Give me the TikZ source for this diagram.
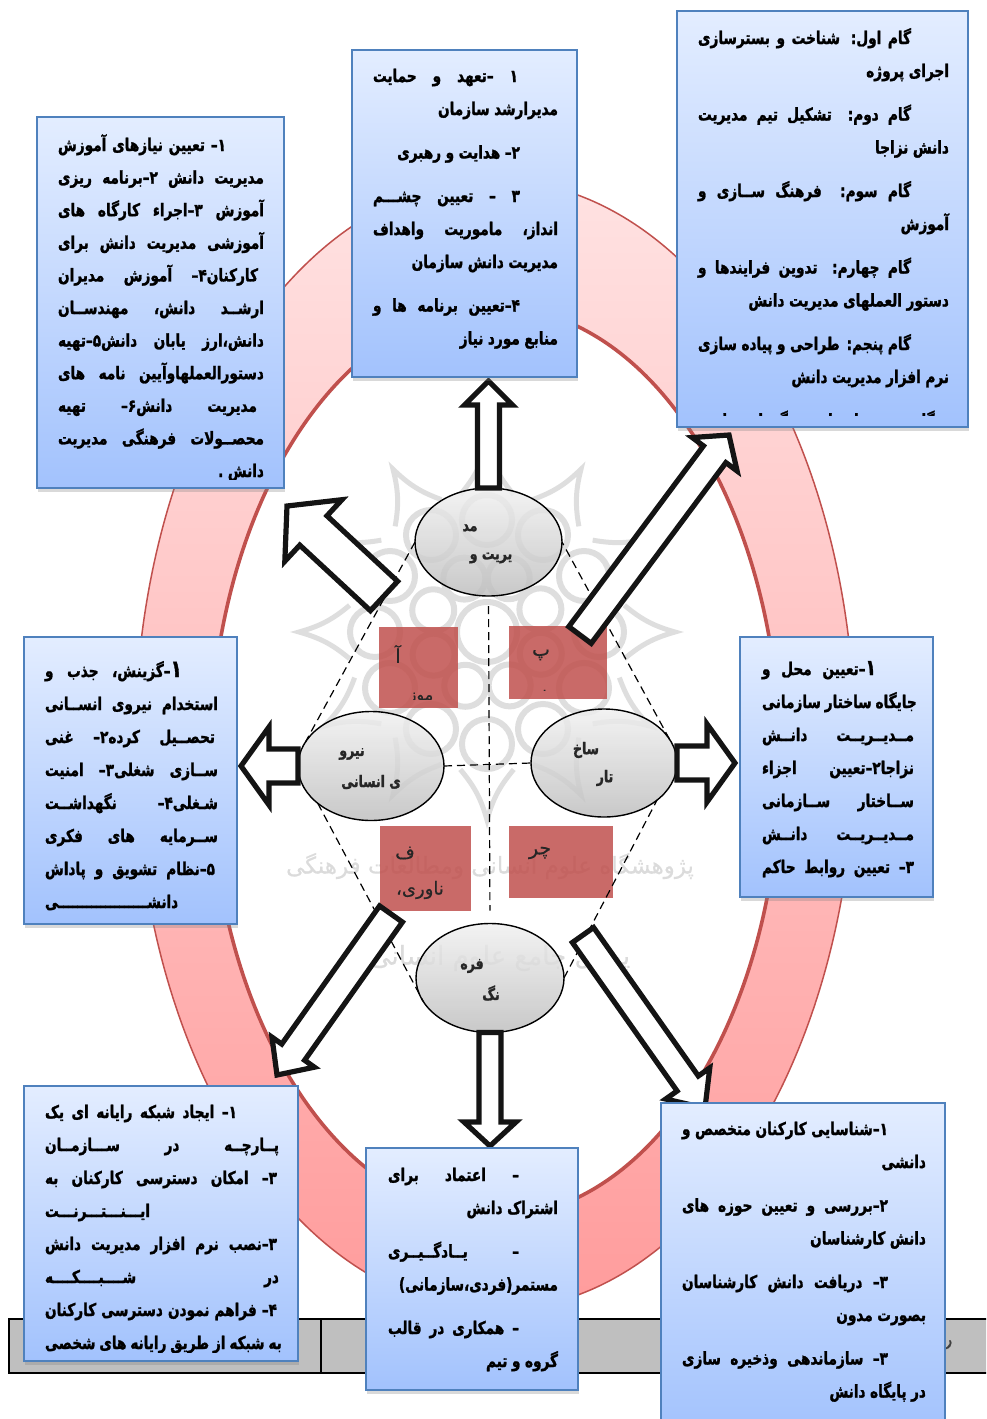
\documentclass[tikz,border=0pt]{standalone}
\usepackage{fontspec}
\usetikzlibrary{calc,shapes.geometric,shadows}
\TeXXeTstate=1
\newfontfamily\fa[Script=Arabic,FakeStretch=0.78,FakeBold=1.5]{DejaVu Sans Bold}
\newfontfamily\fareg[Script=Arabic,FakeBold=0.5]{DejaVu Sans}
\newcommand{\rt}[1]{\beginR #1\endR}
\newcommand{\jl}[2][0pt]{\hbox to\hsize{\spaceskip=.22em plus 1fil\relax\beginR\hskip#1\relax #2\endR}}
\newcommand{\rl}[2][0pt]{\hbox to\hsize{\hfil\spaceskip=.26em\relax\beginR\hskip#1\relax #2\endR}}
\newcommand{\boxtext}[2]{\vtop{\hsize=#1\baselineskip=33pt\lineskiplimit=-100pt\relax #2}}
\newcommand{\gap}{\vskip 10.5pt}
\newcommand{\blockar}[5]{%
  \coordinate (hb) at ($(#2)!#5!(#1)$);
  \draw[blockarrow] ($(#1)!#3!90:(#2)$) -- ($(hb)!#3!90:(#2)$) -- ($(hb)!#4!90:(#2)$) -- (#2)
    -- ($(hb)!#4!-90:(#2)$) -- ($(hb)!#3!-90:(#2)$) -- ($(#1)!#3!-90:(#2)$) -- cycle;}
\definecolor{ringline}{HTML}{C0504D}
\definecolor{boxline}{HTML}{4F81BD}
\definecolor{wmgray}{HTML}{DEDEDE}
\definecolor{boxtop}{HTML}{E3EDFF}
\definecolor{boxbot}{HTML}{A2C2FD}
\definecolor{ringtop}{HTML}{FFE2E2}
\definecolor{ringbot}{HTML}{FF9C9C}
\tikzset{
  kbox/.style={draw=boxline,line width=1.6pt,top color=boxtop,bottom color=boxbot,anchor=north west,inner sep=0pt,outer sep=0pt,
    drop shadow={opacity=.3,shadow xshift=1pt,shadow yshift=-3.5pt}},
  ktext/.style={inner sep=0pt,outer sep=0pt,anchor=base west,font=\fontsize{17.5}{19}\selectfont\fa,text=black},
  kell/.style={ellipse,draw=black,line width=1.4pt,top color=black!6,bottom color=black!26,fill opacity=.82,inner sep=0pt,outer sep=0pt},
  elltext/.style={inner sep=0pt,outer sep=0pt,font=\fontsize{16}{18}\selectfont\fa,text=black!85},
  redbox/.style={fill=ringline,fill opacity=.85,draw=none},
  redtext/.style={inner sep=0pt,outer sep=0pt,font=\fontsize{19}{21}\selectfont\fareg,text=black!85},
  redsmall/.style={redtext,font=\fontsize{16}{18}\selectfont\fareg},
  blockarrow/.style={draw=black!92,line width=5.2pt,fill=white,miter limit=10},
  dashlink/.style={draw=black,line width=1.2pt,dash pattern=on 8pt off 5pt},
  wm/.style={draw=wmgray,line width=6pt,fill=none},
  wmtext/.style={inner sep=0pt,text=black!14},
}
\begin{document}
\begin{tikzpicture}[x=1pt,y=-1pt]
\useasboundingbox (0,0) rectangle (986,1419);
\clip (0,0) rectangle (986,1419);

% table strip
\draw[fill=black!25,draw=black,line width=2pt] (8.5,1319) rectangle (1000,1373);
\draw[black,line width=1.5pt] (321,1319) -- (321,1373);
\node[inner sep=0pt,font=\fontsize{18}{20}\selectfont\fareg,text=black!75] (rr) at (948,1345) {\rt{ر}};

% ring
\path[even odd rule,top color=ringtop,bottom color=ringbot] (495,745) ellipse [x radius=360,y radius=565] (495,762) ellipse [x radius=285,y radius=455];
\draw[ringline,line width=1.5pt] (495,745) ellipse [x radius=360,y radius=565];
\draw[ringline,line width=3.6pt] (495,762) ellipse [x radius=285,y radius=455];

% watermark
\begin{scope}[shift={(487,632)}]
  \foreach \a in {0,45,...,315}{\draw[wm] (\a+22:58) circle (21);}
  \foreach \a in {0,30,...,330}{\draw[wm] (\a:112) circle (25);
     \draw[wm,line width=5pt] (\a-11:140) to[bend right=12] (\a:188) to[bend right=12] (\a+11:140);}
  \draw[wm] (0,0) circle (30);
\end{scope}
\node[wmtext,font=\fontsize{23}{25}\selectfont\fareg] (wm1) at (490,866) {\rt{پژوهشگاه علوم انسانی ومطالعات فرهنگی}};
\node[wmtext,font=\fontsize{26}{28}\selectfont\fareg] (wm2) at (500,958) {\rt{پرتال جامع علوم انسانی}};

% red squares
\path[redbox] (379,627) rectangle (458,708);
\path[redbox] (509,626) rectangle (607,699);
\path[redbox] (380,826) rectangle (471,911);
\path[redbox] (509,826) rectangle (613,898);

\node[redtext] (ra1) at (398,654) {\rt{آ}};
\begin{scope}\clip (379,627) rectangle (458,699);
\node[redsmall,anchor=base] (ra2) at (421,700) {\rt{موز}};\end{scope}
\node[redtext] (rb1) at (541,655) {\rt{پ}};
\begin{scope}\clip (509,626) rectangle (607,690);
\node[redsmall,anchor=base] (rb2) at (547,702) {\rt{یا}};\end{scope}
\node[redtext] (rc1) at (405,853) {\rt{ف}};
\node[redsmall,font=\fontsize{18}{20}\selectfont\fareg] (rc2) at (420,890) {\rt{ناوری،}};
\node[redtext] (rd1) at (540,853) {\rt{چر}};
\begin{scope}\clip (509,826) rectangle (613,887);
\node[redsmall,anchor=base] (rd2) at (533,899) {\rt{ه}};
\node[redsmall,anchor=base] (rd3) at (588,899) {\rt{خ}};\end{scope}

% ellipses
\node[kell,minimum width=147pt,minimum height=108pt] (tm) at (488.5,542) {};
\node[kell,minimum width=146pt,minimum height=109pt] (lm) at (371,766) {};
\node[kell,minimum width=146pt,minimum height=108pt] (rm) at (604,763) {};
\node[kell,minimum width=148pt,minimum height=109pt] (bm) at (490,978) {};
\node[elltext] (e1) at (470,528) {\rt{مد}};
\node[elltext] (e2) at (491,558) {\rt{یریت و}};
\node[elltext] (e3) at (352,754) {\rt{نیرو}};
\node[elltext] (e4) at (371,782) {\rt{ی انسانی}};
\node[elltext] (e5) at (586,750) {\rt{ساخ}};
\node[elltext] (e6) at (605,778) {\rt{تار}};
\node[elltext] (e7) at (472,966) {\rt{فره}};
\node[elltext] (e8) at (491,993) {\rt{نگ}};

% dashed links
\draw[dashlink] (tm.180) -- (lm.160);
\draw[dashlink] (lm.215) -- (bm.200);
\draw[dashlink] (bm.0) -- (rm.-35);
\draw[dashlink] (rm.20) -- (tm.0);
\draw[dashlink,shorten <=10pt,shorten >=13pt] (tm.south) -- (bm.north);
\draw[dashlink] (lm.east) -- (rm.west);

% block arrows
\coordinate (anw0) at (384,596); \coordinate (anw1) at (287,506);
\coordinate (ane0) at (580,635); \coordinate (ane1) at (729,435);
\coordinate (asw0) at (391,914); \coordinate (asw1) at (277,1075);
\coordinate (ase0) at (583,935); \coordinate (ase1) at (705,1108);
\coordinate (an1) at (488.5,381); \coordinate (as1) at (490,1146);
\coordinate (aw1) at (241,766); \coordinate (ae1) at (735,763);
\blockar{tm.north}{an1}{11pt}{24pt}{24pt}
\blockar{bm.south}{as1}{11pt}{26pt}{24pt}
\blockar{lm.west}{aw1}{17pt}{39pt}{28pt}
\blockar{rm.east}{ae1}{17pt}{39pt}{28pt}
\blockar{anw0}{anw1}{20pt}{42pt}{36pt}
\blockar{ane0}{ane1}{14pt}{28pt}{24pt}
\blockar{asw0}{asw1}{14pt}{26pt}{28pt}
\blockar{ase0}{ase1}{13pt}{27pt}{30pt}

% text boxes
\node[kbox,minimum width=247pt,minimum height=371pt] (b1) at (37,117) {};
\node[kbox,minimum width=225pt,minimum height=327pt] (b2) at (352,50) {};
\node[kbox,minimum width=291pt,minimum height=416pt] (b3) at (677,11) {};
\node[kbox,minimum width=213pt,minimum height=287pt] (b4) at (24,637) {};
\node[kbox,minimum width=193pt,minimum height=260pt] (b5) at (740,637) {};
\node[kbox,minimum width=274pt,minimum height=275pt] (b6) at (24,1086) {};
\node[kbox,minimum width=212pt,minimum height=242pt] (b7) at (366,1148) {};
\node[kbox,minimum width=284pt,minimum height=330pt] (b8) at (661,1103) {};

\begin{scope}\clip (37,117) rectangle (284,479);
\node[ktext] (t1) at (58,151) {\boxtext{206pt}{\baselineskip=32.6pt
\jl[38pt]{۱– تعیین نیازهای آموزش}
\jl{مدیریت دانش ۲–برنامه ریزی}
\jl{آموزش ۳–اجراء کارگاه های}
\jl{آموزشی مدیریت دانش برای}
\jl[6pt]{کارکنان۴– آموزش مدیران}
\jl{ارشــد دانش، مهندســان}
\jl{دانش،ارز یابان دانش۵–تهیه}
\jl{دستورالعملهاوآیین نامه های}
\jl[7pt]{مدیریت دانش۶– تهیه}
\jl{محصــولات فرهنگی مدیریت}
\rl{دانش .}}};
\end{scope}

\node[ktext] (t2) at (373,82) {\boxtext{185pt}{%
\jl[40pt]{۱ –تعهد و حمایت}
\rl{مدیرارشد سازمان}
\gap
\rl[38pt]{۲– هدایت و رهبری}
\gap
\jl[38pt]{۳ – تعیین چشـــم}
\jl{انداز، ماموریت واهداف}
\rl{مدیریت دانش سازمان}
\gap
\jl[38pt]{۴–تعیین برنامه ها و}
\rl{منابع مورد نیاز}}};

\begin{scope}\clip (677,11) rectangle (968,415);
\node[ktext] (t3) at (698,44) {\boxtext{251pt}{%
\jl[38pt]{گام اول: شناخت و بسترسازی}
\rl{اجرای پروژه}
\gap
\jl[38pt]{گام دوم: تشکیل تیم مدیریت}
\rl{دانش نزاجا}
\gap
\jl[38pt]{گام سوم: فرهنگ ســازی و}
\rl{آموزش}
\gap
\jl[38pt]{گام چهارم: تدوین فرایندها و}
\rl{دستور العملهای مدیریت دانش}
\gap
\jl[38pt]{گام پنجم: طراحی و پیاده سازی}
\rl{نرم افزار مدیریت دانش}
\gap
\jl[38pt]{گام ششم: ارزیابی و نگهداری دانش}}};
\end{scope}

\node[ktext] (t4) at (45,677) {\boxtext{173pt}{%
\jl[36pt]{{\fontsize{24}{25}\selectfont ۱}–گزینش، جذب و}
\jl{استخدام نیروی انســانی}
\jl[3pt]{تحصــیل کرده۲– غنی}
\jl{ســازی شغلی۳– امنیت}
\jl{شـغلی۴– نگهداشــت}
\jl{ســرمایه های فکری}
\jl[3pt]{۵–نظام تشویق و پاداش}
\jl{دانشـــــــــــــــــــی}}};

\node[ktext] (t5) at (762,675) {\boxtext{152pt}{%
\jl[38pt]{{\fontsize{22}{23}\selectfont ۱}–تعیین محل و}
\jl{جایگاه ساختار سازمانی}
\jl{مــدیــریــت دانــش}
\jl{نزاجا۲–تعیین اجزاء}
\jl{ســاختار ســازمانی}
\jl{مــدیــریــت دانــش}
\jl{۳– تعیین روابط حاکم}}};

\begin{scope}\clip (24,1086) rectangle (298,1352);
\node[ktext] (t6) at (45,1118) {\boxtext{234pt}{%
\jl[42pt]{۱– ایجاد شبکه رایانه ای یک}
\jl{پــارچــه در ســـازمــان}
\jl[2pt]{۳– امکان دسترسی کارکنان به}
\jl{ایـــنـــتـــرنـــت}
\jl[2pt]{۳–نصب نرم افزار مدیریت دانش}
\jl{در شــــبــــکــــه}
\jl[2pt]{۴– فراهم نمودن دسترسی کارکنان}
\jl{به شبکه از طریق رایانه های شخصی}}};
\end{scope}

\node[ktext] (t7) at (388,1181) {\boxtext{170pt}{%
\jl[39pt]{– اعتماد برای}
\rl{اشتراک دانش}
\gap
\jl[39pt]{– یــادگــیــری}
\rl{مستمر(فردی،سازمانی)}
\gap
\jl[39pt]{– همکاری در قالب}
\rl{گروه و تیم}}};

\node[ktext] (t8) at (682,1135) {\boxtext{244pt}{%
\jl[38pt]{۱–شناسایی کارکنان متخصص و}
\rl{دانشی}
\gap
\jl[38pt]{۲–بررسی و تعیین حوزه های}
\rl{دانش کارشناسان}
\gap
\jl[38pt]{۳– دریافت دانش کارشناسان}
\rl{بصورت مدون}
\gap
\jl[38pt]{۳– سازماندهی وذخیره سازی}
\rl{در پایگاه دانش}}};
\end{tikzpicture}
\end{document}
